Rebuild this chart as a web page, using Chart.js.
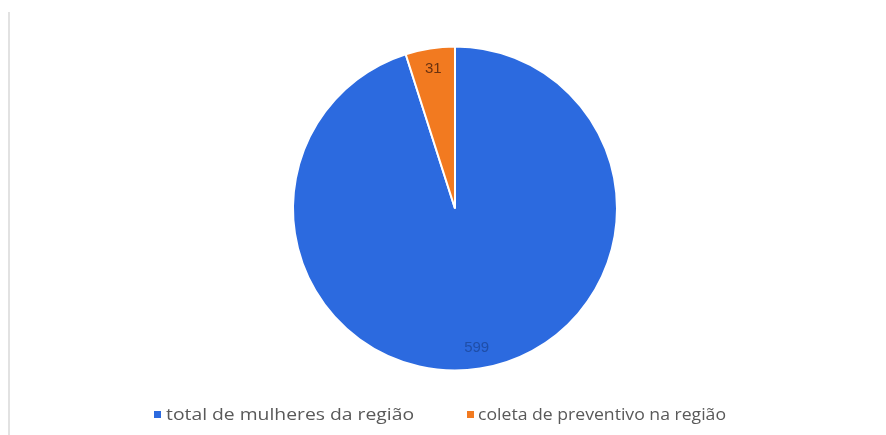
<!DOCTYPE html>
<html>
<head>
<meta charset="utf-8">
<script src="https://cdn.jsdelivr.net/npm/chart.js@4"></script>
<style>
  html, body { margin: 0; padding: 0; background: #fff; }
  #wrap { position: relative; width: 886px; height: 435px; }
  #edge { position: absolute; left: 8px; top: 12px; width: 2px; height: 423px; background: #e2e2e2; }
  canvas { position: absolute; left: 0; top: 0; }
</style>
</head>
<body>
<div id="wrap">
  <div id="edge"></div>
  <canvas id="pieChart" width="886" height="435"></canvas>
</div>
<script>
const labels = ["total de mulheres da região", "coleta de preventivo na região"];
const values = [599, 31];
const colors = ["#2c6adf", "#f27a20"];

// value labels drawn inside each slice
const sliceLabels = {
    id: "sliceLabels",
    afterDatasetsDraw(chart) {
        const ctx = chart.ctx;
        const meta = chart.getDatasetMeta(0);
        ctx.save();
        ctx.font = "15px 'Liberation Sans', Arial, sans-serif";
        ctx.textAlign = "center";
        ctx.textBaseline = "middle";
        meta.data.forEach((arc, i) => {
            const mid = (arc.startAngle + arc.endAngle) / 2;
            const r = arc.outerRadius * 0.87;
            const x = arc.x + Math.cos(mid) * r;
            const y = arc.y + Math.sin(mid) * r;
            ctx.fillStyle = i === 0 ? "#1f4ea8" : "#6a3210";
            ctx.fillText(String(values[i]), x, y);
        });
        ctx.restore();
    }
};

// legend along the bottom, items taken from the chart's own legend labels
const bottomLegend = {
    id: "bottomLegend",
    afterDraw(chart) {
        const ctx = chart.ctx;
        const items = Chart.overrides.pie.plugins.legend.labels.generateLabels(chart);
        const boxX = [154, 467];
        const textX = [166, 478];
        const textW = 248;
        const y = 415;
        ctx.save();
        ctx.font = "16px 'Open Sans', 'Liberation Sans', sans-serif";
        ctx.textBaseline = "middle";
        items.forEach((item, i) => {
            ctx.fillStyle = item.fillStyle;
            ctx.fillRect(boxX[i], y - 4, 7, 7);
            const w = ctx.measureText(item.text).width;
            ctx.save();
            ctx.translate(textX[i], y);
            ctx.scale(textW / w, 1);
            ctx.fillStyle = "#595959";
            ctx.fillText(item.text, 0, 0);
            ctx.restore();
        });
        ctx.restore();
    }
};

const ctx = document.getElementById("pieChart").getContext("2d");
new Chart(ctx, {
    type: "pie",
    data: {
        labels,
        datasets: [{
            data: values,
            backgroundColor: colors,
            borderColor: "#ffffff",
            borderWidth: 2,
            radius: 162,
            clip: false
        }]
    },
    options: {
        responsive: false,
        animation: false,
        layout: { padding: { top: 0, bottom: 18, left: 24, right: 0 } },
        plugins: {
            legend: { display: false },
            tooltip: { enabled: false }
        }
    },
    plugins: [sliceLabels, bottomLegend]
});
</script>
</body>
</html>
